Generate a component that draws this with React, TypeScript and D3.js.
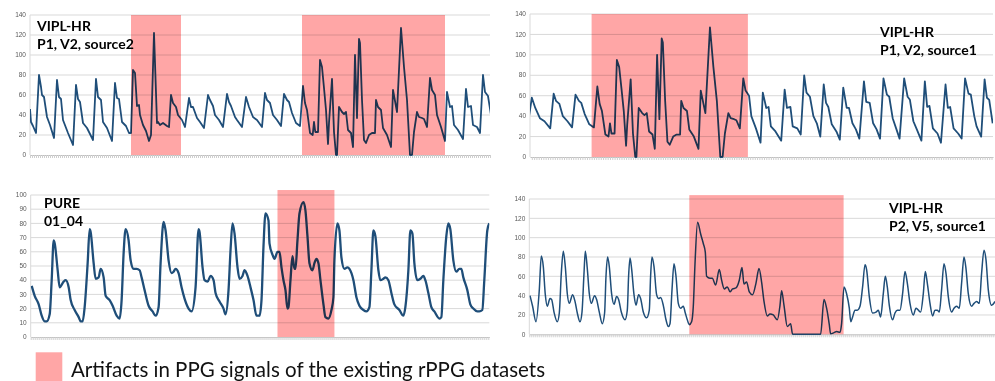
import React, { useRef, useEffect } from 'react';
import * as d3 from 'd3';

// [frame, value]
// VIPL-HR P1 V2: the two top panels show overlapping windows of the same trace
const viplP1V2: [number, number][] = [
  [0, 46], [1, 33], [3, 29], [6, 22], [9, 80], [11, 68], [12, 60], [14, 58], [17, 38], [20, 30], [24, 17],
  [27, 75], [29, 58], [31, 56], [33, 35], [38, 22], [43, 10],
  [46, 70], [48, 56], [50, 53], [53, 32], [57, 27], [63, 15],
  [66, 76], [68, 58], [71, 55], [73, 33], [77, 27], [82, 14],
  [85, 72], [87, 57], [89, 56], [92, 33], [96, 29], [99, 22], [101, 22],
  [103, 85], [105, 82], [107, 49], [109, 50], [110, 40], [113, 30], [116, 24], [119, 14], [121, 20],
  [124, 122], [127, 32], [128, 33], [130, 30], [133, 32], [137, 29], [139, 28],
  [141, 60], [143, 52], [146, 48], [148, 40], [152, 35], [155, 28],
  [159, 57], [161, 48], [163, 48], [167, 37], [170, 33], [174, 27],
  [178, 60], [180, 55], [183, 49], [185, 40], [189, 35], [193, 28],
  [197, 61], [199, 53], [201, 49], [205, 38], [207, 35], [212, 28],
  [216, 58], [219, 48], [223, 38], [227, 35], [232, 28],
  [235, 62], [237, 55], [240, 52], [243, 40], [247, 35], [251, 29],
  [254, 61], [257, 55], [259, 53], [262, 42], [266, 32], [270, 29],
  [273, 69], [275, 52], [277, 45], [280, 22], [282.7, 20], [284, 33], [285.3, 23], [288, 23],
  [290, 95], [292, 88], [294, 67], [296, 45], [298, 11], [299, 32], [302, 76], [304, 23], [306, 0], [307, 0],
  [309, 48], [312, 43], [314, 41], [316, 43], [318, 25], [321, 22], [323, 8], [325, 100], [327, 37],
  [329, 116], [330, 112], [332, 55], [334, 15], [336, 12], [339, 20], [342, 22], [345, 22],
  [346, 55], [348, 48], [351, 45], [353, 27], [357, 20], [361, 8], [363, 65], [367, 43],
  [371, 127], [374, 88], [377, 55], [380, 0], [382, 0], [384, 23], [387, 43], [389, 38], [392, 37],
  [394, 36], [397, 28], [400, 77], [402, 65], [405, 60], [407, 40], [411, 28], [415, 14],
  [417, 63], [420, 48], [422, 49], [424, 30], [428, 25], [433, 16],
  [436, 66], [438, 48], [441, 49], [443, 30], [447, 28], [450, 22],
  [453, 80], [455, 63], [458, 59], [461, 40], [464, 33], [467, 20],
  [470, 71], [472, 53], [474, 49], [477, 32], [481, 25], [484, 17],
  [487, 68], [490, 48], [492, 48], [495, 33], [498, 27], [501, 18],
  [505, 74], [507, 54], [510, 53], [513, 33], [516, 27], [519, 18],
  [522, 77], [525, 61], [527, 59], [530, 38], [533, 28], [536, 18],
  [540, 77], [543, 59], [545, 56], [548, 35], [551, 27], [555, 16],
  [558, 74], [560, 49], [562, 50], [565, 28], [569, 23], [572, 14],
  [576, 71], [578, 48], [580, 49], [583, 28], [587, 23], [590, 18],
  [593, 77], [596, 62], [598, 61], [601, 40], [603, 30], [607, 20],
  [610, 76], [612, 58], [614, 56], [617, 33],
];

// PURE 01_04
const pure0104: [number, number][] = [
  [1, 36], [4, 29], [8, 23], [11, 15], [14, 11], [16, 11], [19, 16], [21, 40], [23, 68], [24, 66],
  [27, 47], [29, 35], [33, 39], [35, 40], [38, 35], [40, 26], [44, 19], [48, 14], [50, 11], [52, 11],
  [54, 21], [57, 52], [59, 76], [60, 74], [63, 52], [65, 41], [68, 42], [70, 48], [73, 42], [75, 29],
  [79, 26], [82, 22], [86, 15], [89, 13], [91, 26], [93, 59], [95, 76], [98, 68], [100, 54], [103, 48],
  [106, 48], [109, 47], [111, 42], [114, 33], [118, 22], [122, 18], [125, 15], [128, 21], [130, 52],
  [133, 81], [135, 75], [138, 54], [141, 45], [143, 46], [145, 48], [148, 45], [151, 35], [154, 27],
  [158, 20], [161, 18], [165, 35], [168, 76], [169, 74], [172, 49], [174, 40], [177, 39], [180, 43],
  [183, 40], [185, 31], [189, 25], [193, 20], [195, 16], [198, 33], [200, 61], [202, 80], [204, 73],
  [207, 49], [209, 41], [212, 43], [214, 47], [217, 43], [220, 35], [223, 26], [226, 15], [229, 15],
  [231, 26], [233, 64], [235, 87], [238, 82], [239, 66], [242, 58], [244, 55], [247, 60], [249, 60],
  [251, 49], [253, 40], [255, 33], [257, 20], [258, 21], [260, 40], [262, 57], [264, 48], [265, 48],
  [267, 68], [269, 87], [273, 95], [275, 89], [277, 71], [279, 52], [282, 47], [284, 52], [286, 55],
  [288, 52], [290, 40], [293, 23], [295, 14], [298, 13], [301, 19], [303, 28], [304, 54], [307, 80],
  [309, 75], [311, 56], [314, 48], [317, 49], [319, 48], [323, 40], [326, 28], [329, 22], [333, 19],
  [336, 18], [339, 21], [341, 47], [343, 75], [345, 71], [348, 47], [350, 40], [353, 41], [355, 42],
  [358, 40], [361, 31], [364, 23], [369, 19], [373, 15], [375, 21], [378, 47], [380, 75], [382, 73],
  [384, 52], [387, 40], [390, 41], [393, 43], [395, 40], [398, 31], [401, 21], [404, 18], [409, 13],
  [411, 14], [413, 40], [416, 71], [418, 80], [420, 76], [423, 54], [426, 46], [429, 48], [431, 48],
  [433, 42], [437, 33], [440, 23], [443, 20], [447, 18], [449, 18], [452, 19], [454, 40], [457, 75],
  [459, 80],
];

// VIPL-HR P2 V5 source1
const viplP2V5: [number, number][] = [
  [0.7, 40], [3.3, 29], [6.7, 13], [10, 46], [12, 81], [14, 70], [16, 41], [18, 29], [20.7, 37], [22.3, 36],
  [24.7, 23], [28, 13], [30, 22], [32, 63], [34, 86], [36, 70], [38, 42], [40, 32], [43.3, 41], [45.7, 34],
  [48, 22], [50.7, 13], [52.7, 23], [54.7, 63], [56, 86], [58, 68], [60, 42], [62, 32], [65.3, 40], [67.3, 36],
  [70, 23], [73, 11], [75.3, 22], [76.7, 60], [78.3, 80], [80, 70], [82.3, 42], [84.7, 31], [87.3, 39],
  [89.3, 36], [92, 23], [95.7, 15], [98, 25], [99.3, 60], [100.7, 79], [102.3, 68], [104.7, 41], [106.7, 30],
  [109.3, 41], [111.3, 37], [114, 23], [117.3, 17], [120, 25], [121.3, 60], [122.7, 80], [124.7, 70],
  [127.3, 41], [129.3, 37], [131.3, 38], [134, 30], [136.7, 15], [139, 8], [140.7, 11], [142.7, 46],
  [144.7, 73], [146.7, 60], [149, 32], [151.3, 27], [154, 29], [156, 22], [158, 15], [160, 10],
  [162.3, 13], [164, 29], [165.7, 73], [168.3, 116], [171.3, 104], [174, 94], [176, 85], [177.3, 60],
  [180.7, 58], [183, 58], [186.3, 51], [190, 67], [192.3, 56], [195, 47], [198, 49], [200.7, 44],
  [203.3, 47], [206.7, 48], [210, 56], [212.7, 69], [214.7, 52], [217.3, 54], [220, 44], [223.3, 41],
  [226.7, 53], [229.7, 68], [232.3, 54], [234.7, 34], [238, 19], [240.7, 21], [244, 20], [248, 15],
  [250.7, 30], [252.3, 45], [254.7, 30], [258, 8], [261.3, 11], [263.3, 0], [291.3, 0], [294.7, 36],
  [297.3, 27], [300, 10], [301.3, 0.5], [304.7, 1.7], [307.3, 2.8], [310.7, 2], [312.3, 11], [314.7, 49],
  [317.3, 42], [320, 27], [321.5, 13], [323.3, 18], [325.7, 25], [328, 25], [330.7, 29], [333.3, 49],
  [335.7, 72], [337.3, 67], [340, 39], [343.3, 22], [346.7, 23], [349, 25], [351.3, 18], [354, 42],
  [356, 60], [358, 49], [360, 30], [363.3, 15], [365.7, 22], [368, 25], [370.7, 25], [373.3, 42],
  [375.7, 65], [378, 53], [380.7, 32], [384, 20], [386.7, 27], [389, 25], [391.3, 23], [394, 42],
  [396, 65], [398, 53], [400.7, 32], [403.3, 19], [405.7, 25], [408, 25], [410, 23], [412.3, 46],
  [414.7, 73], [416.7, 63], [419, 39], [422.3, 23], [424.7, 27], [427.3, 29], [430, 27], [432.3, 53],
  [434.7, 80], [436.7, 68], [439, 42], [442.3, 29], [444.7, 32], [447.3, 34], [450, 32], [452.3, 63],
  [454.7, 87], [456.7, 77], [459, 46], [462.3, 30], [465.7, 34],
];

// artifact windows: [first frame, last frame, top value]
const artifactsP1: [number, number, number][] = [[101, 151, 140], [272, 415, 140]];
const artifactsP2: [number, number, number][] = [[268, 404, 140]];
const artifactsP3: [number, number, number][] = [[247, 304, 103.5]];
const artifactsP4: [number, number, number][] = [[160, 314.3, 144]];

const yTicks140 = [0, 20, 40, 60, 80, 100, 120, 140];
const yTicks100 = [0, 10, 20, 30, 40, 50, 60, 70, 80, 90, 100];

const legendText = 'Artifacts in PPG signals of the existing rPPG datasets';

const panels = [
  { id: 'p1', data: viplP1V2, frames: [0, 460], yTicks: yTicks140, x0: 30, x1: 490, y0: 155, y1: 15,
    artifacts: artifactsP1, smooth: false, lw: 1.8, labels: ['VIPL-HR', 'P1, V2, source2'], lx: 37, ly: 31 },
  { id: 'p2', data: viplP1V2, frames: [214.4, 617.3], yTicks: yTicks140, x0: 530, x1: 993, y0: 157, y1: 14,
    artifacts: artifactsP2, smooth: false, lw: 1.8, labels: ['VIPL-HR', 'P1, V2, source1'], lx: 880, ly: 37 },
  { id: 'p3', data: pure0104, frames: [0, 459], yTicks: yTicks100, x0: 30.7, x1: 489.3, y0: 337, y1: 195,
    artifacts: artifactsP3, smooth: true, lw: 2.3, labels: ['PURE', '01_04'], lx: 44, ly: 208 },
  { id: 'p4', data: viplP2V5, frames: [0, 465.7], yTicks: yTicks140, x0: 529.3, x1: 995, y0: 334.3, y1: 199,
    artifacts: artifactsP4, smooth: true, lw: 1.5, labels: ['VIPL-HR', 'P2, V5, source1'], lx: 889, ly: 213 },
];

function ArtifactFigure() {
  const svgRef = useRef<SVGSVGElement>(null);

  useEffect(() => {
    const svg = d3.select(svgRef.current);
    svg.selectAll('*').remove();

    panels.forEach((p) => {
      const yMax = p.yTicks[p.yTicks.length - 1];
      const x = d3.scaleLinear().domain(p.frames).range([p.x0, p.x1]);
      const y = d3.scaleLinear().domain([0, yMax]).range([p.y0, p.y1]);
      const g = svg.append('g');

      // horizontal grid
      g.selectAll('.grid')
        .data(p.yTicks.slice(1))
        .enter()
        .append('line')
        .attr('x1', p.x0)
        .attr('x2', p.x1)
        .attr('y1', (d) => y(d))
        .attr('y2', (d) => y(d))
        .attr('stroke', '#d9d9d9')
        .attr('stroke-width', 1);

      g.append('line')
        .attr('x1', p.x0).attr('x2', p.x0)
        .attr('y1', y(yMax)).attr('y2', y(0))
        .attr('stroke', '#d9d9d9');

      // dense category ticks under the axis
      const xAxis = g.append('g')
        .attr('transform', `translate(0,${y(0)})`)
        .call(d3.axisBottom(x).ticks(Math.floor((p.x1 - p.x0) / 2.5)).tickSize(3).tickFormat(() => '').tickSizeOuter(0));
      xAxis.select('.domain').attr('stroke', '#bfbfbf');
      xAxis.selectAll('.tick line').attr('stroke', '#cfcfcf');

      g.selectAll('.ylab')
        .data(p.yTicks)
        .enter()
        .append('text')
        .attr('x', p.x0 - 4)
        .attr('y', (d) => y(d) + 2.2)
        .attr('text-anchor', 'end')
        .attr('font-family', 'Liberation Sans, Arial, sans-serif')
        .attr('font-size', 6.5)
        .attr('fill', '#595959')
        .text((d) => d);

      // signal, clipped to the plot width
      const clipId = `clip-${p.id}`;
      svg.append('clipPath').attr('id', clipId)
        .append('rect')
        .attr('x', p.x0).attr('y', 0)
        .attr('width', p.x1 - p.x0).attr('height', 381);

      const line = d3.line<[number, number]>()
        .x((d) => x(d[0]))
        .y((d) => y(d[1]))
        .curve(p.smooth ? d3.curveMonotoneX : d3.curveLinear);

      g.append('path')
        .datum(p.data)
        .attr('clip-path', `url(#${clipId})`)
        .attr('d', line)
        .attr('fill', 'none')
        .attr('stroke', '#1f4e79')
        .attr('stroke-width', p.lw)
        .attr('stroke-linejoin', 'round');

      // artifact windows
      g.selectAll('.art')
        .data(p.artifacts)
        .enter()
        .append('rect')
        .attr('x', (d) => x(d[0]))
        .attr('width', (d) => x(d[1]) - x(d[0]))
        .attr('y', (d) => y(d[2]))
        .attr('height', (d) => y(0) - y(d[2]))
        .attr('fill', '#ffa6a6')
        .style('mix-blend-mode', 'multiply');

      g.selectAll('.lab')
        .data(p.labels)
        .enter()
        .append('text')
        .attr('x', p.lx)
        .attr('y', (d, i) => p.ly + i * 17.5)
        .attr('font-family', 'Lato, sans-serif')
        .attr('font-weight', 'bold')
        .attr('font-size', 14)
        .attr('fill', '#000')
        .text((d) => d);
    });

    // legend
    svg.append('rect')
      .attr('x', 35.7).attr('y', 352.3)
      .attr('width', 26.6).attr('height', 29)
      .attr('fill', '#ffa6a6');
    svg.append('text')
      .attr('x', 71).attr('y', 377)
      .attr('font-family', 'Lato, sans-serif')
      .attr('font-size', 20.5)
      .attr('fill', '#111')
      .text(legendText);
  }, []);

  return <svg ref={svgRef} width={995} height={381} style={{ position: 'absolute', left: 0, top: 0, background: '#fff' }} />;
}

export default function App() {
  return <ArtifactFigure />;
}
